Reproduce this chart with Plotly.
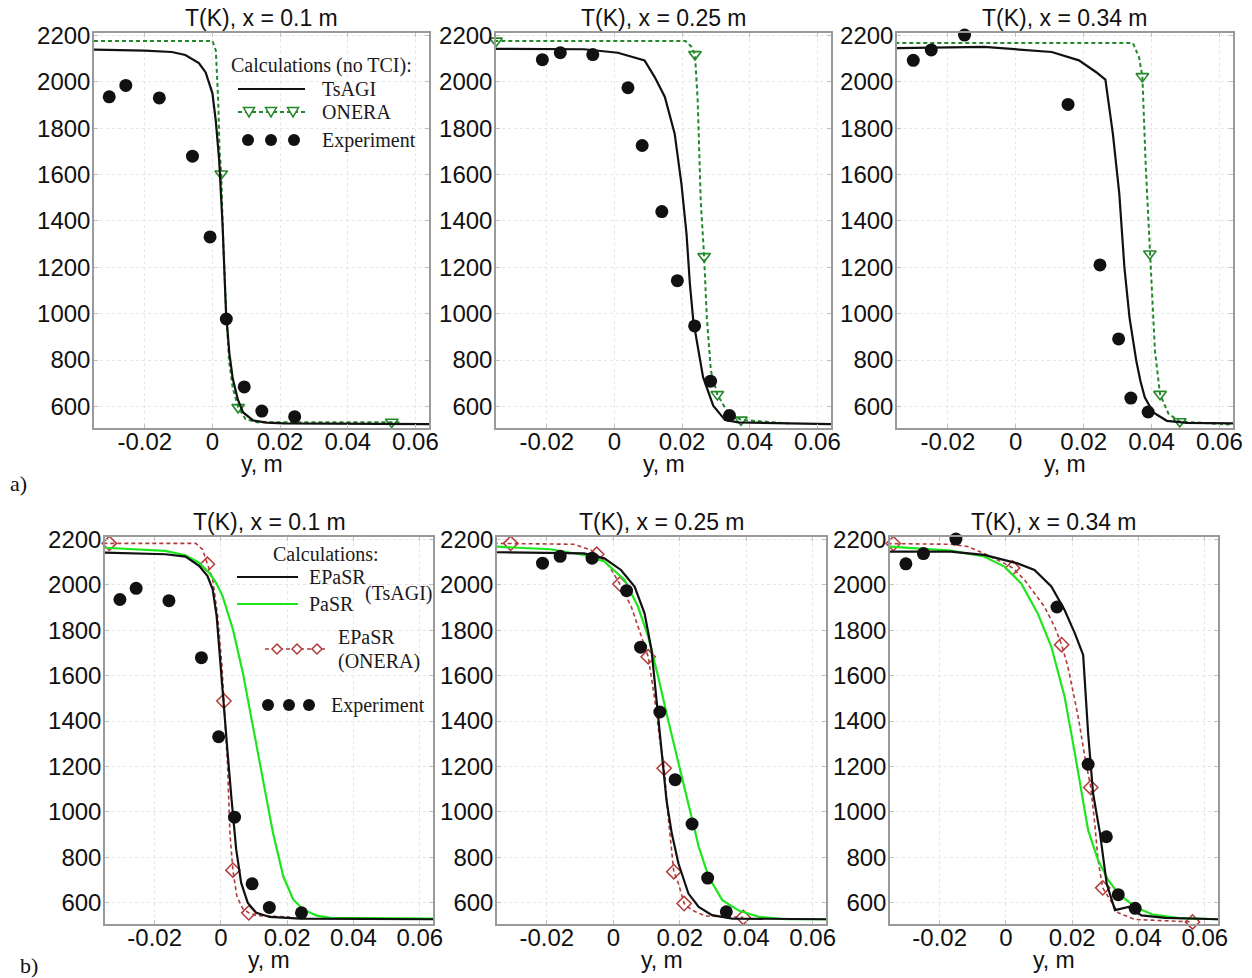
import plotly.graph_objects as go

# ---------------------------------------------------------------- data
# Experimental temperature profiles (same measurements in rows a and b)
exp_y_010 = [-0.0305, -0.0256, -0.0157, -0.0059, -0.0007, 0.0041, 0.0094, 0.0146, 0.0243]
exp_T_010 = [1935, 1984, 1930, 1679, 1331, 977, 684, 580, 556]

exp_y_025 = [-0.0213, -0.016, -0.0064, 0.004, 0.0082, 0.014, 0.0186, 0.0237, 0.0284, 0.034]
exp_T_025 = [2095, 2125, 2117, 1974, 1725, 1440, 1142, 947, 709, 561]

exp_y_034 = [-0.0302, -0.0249, -0.0151, 0.0154, 0.0248, 0.0303, 0.0339, 0.039]
exp_T_034 = [2092, 2137, 2201, 1902, 1210, 891, 636, 576]

# Row a: calculations without turbulence-chemistry interaction
tsagi_y_010 = [-0.035, -0.02, -0.012, -0.008, -0.004, -0.002, 0.0, 0.001, 0.002, 0.003,
               0.004, 0.005, 0.006, 0.0075, 0.009, 0.012, 0.016, 0.021, 0.064]
tsagi_T_010 = [2138, 2134, 2128, 2115, 2080, 2040, 1950, 1830, 1660, 1380,
               1010, 830, 720, 630, 575, 540, 530, 527, 524]
onera_y_010 = [-0.035, 0.0, 0.001, 0.0017, 0.0021, 0.0026, 0.0031, 0.0039, 0.0049, 0.006,
               0.0076, 0.0098, 0.013, 0.053, 0.056]
onera_T_010 = [2176, 2176, 2135, 1919, 1704, 1603, 1344, 1056, 797, 680,
               596, 545, 532, 533, 532]
onera_mk_y_010 = [0.0026, 0.0076, 0.053]
onera_mk_T_010 = [1603, 596, 533]

tsagi_y_025 = [-0.0355, -0.009, 0.001, 0.0089, 0.0119, 0.0149, 0.0178, 0.0198, 0.0213, 0.0223,
               0.0233, 0.0248, 0.0262, 0.0292, 0.0327, 0.0366, 0.064]
tsagi_T_025 = [2142, 2140, 2125, 2092, 2020, 1934, 1776, 1560, 1344, 1128,
               970, 841, 726, 603, 541, 531, 524]
onera_y_025 = [-0.0355, 0.021, 0.0228, 0.0238, 0.0246, 0.0255, 0.0265, 0.0273, 0.0285, 0.0304,
               0.0332, 0.0374, 0.0515]
onera_T_025 = [2176, 2176, 2150, 2118, 1919, 1488, 1247, 984, 754, 652,
               581, 542, 527]
onera_mk_y_025 = [-0.035, 0.0238, 0.0265, 0.0304, 0.0374]
onera_mk_T_025 = [2176, 2118, 1247, 652, 542]

tsagi_y_034 = [-0.0355, -0.0093, 0.0106, 0.0186, 0.0236, 0.0264, 0.0286, 0.0305, 0.032, 0.0335,
               0.0355, 0.0367, 0.038, 0.0405, 0.0445, 0.0504, 0.0644]
tsagi_T_034 = [2145, 2150, 2128, 2092, 2042, 2009, 1776, 1517, 1200, 984,
               797, 711, 639, 574, 538, 529, 527]
onera_y_034 = [-0.0355, 0.0345, 0.0363, 0.0373, 0.0383, 0.0395, 0.041, 0.0425, 0.045, 0.0483, 0.0639]
onera_T_034 = [2167, 2167, 2106, 2023, 1632, 1258, 841, 653, 568, 535, 521]
onera_mk_y_034 = [-0.0351, 0.0373, 0.0395, 0.0425, 0.0483]
onera_mk_T_034 = [2167, 2023, 1258, 653, 535]

# Row b: EPaSR / PaSR combustion models
epasr_y_010 = [-0.0355, -0.0168, -0.0107, -0.0066, -0.0041, -0.0025, -0.0013, -0.0003, 0.0007,
               0.002, 0.0032, 0.0046, 0.0061, 0.0081, 0.0107, 0.0147, 0.0239, 0.064]
epasr_T_010 = [2141, 2134, 2124, 2083, 2039, 1980, 1862, 1672, 1466,
               1261, 1055, 835, 688, 600, 556, 538, 531, 528]
pasr_y_010 = [-0.0355, -0.0168, -0.0107, -0.0066, -0.0036, -0.0015, 0.0005, 0.0036, 0.0066,
              0.0096, 0.0127, 0.0157, 0.0188, 0.0218, 0.0249, 0.0289, 0.033, 0.064]
pasr_T_010 = [2163, 2149, 2130, 2097, 2053, 2009, 1950, 1804, 1613,
              1378, 1143, 908, 717, 615, 570, 544, 534, 531]
epasr_on_y_010 = [-0.0355, -0.0076, -0.0056, -0.0041, -0.0025, -0.001, 0.0003, 0.0009, 0.002,
                  0.0027, 0.0036, 0.0048, 0.0066, 0.0084, 0.0107, 0.0208]
epasr_on_T_010 = [2182, 2182, 2156, 2090, 2024, 1862, 1642, 1488, 1202,
                  908, 744, 629, 574, 556, 544, 538]
epasr_on_mk_y_010 = [-0.0337, -0.0041, 0.0009, 0.0036, 0.0084]
epasr_on_mk_T_010 = [2182, 2090, 1488, 744, 556]

epasr_y_025 = [-0.036, -0.0088, -0.0027, 0.0023, 0.0064, 0.0094, 0.0115, 0.013, 0.0145,
               0.016, 0.0176, 0.0196, 0.0226, 0.0257, 0.0297, 0.0358, 0.064]
epasr_T_025 = [2143, 2138, 2116, 2065, 1992, 1874, 1713, 1492, 1258,
               1052, 905, 773, 641, 582, 546, 531, 528]
pasr_y_025 = [-0.036, -0.019, -0.0088, -0.0027, 0.0034, 0.0074, 0.0105, 0.0135, 0.0165,
              0.0196, 0.0226, 0.0257, 0.0287, 0.0328, 0.0379, 0.044, 0.0521, 0.064]
pasr_T_025 = [2168, 2156, 2131, 2102, 2021, 1904, 1771, 1595, 1404,
              1214, 1023, 847, 714, 612, 565, 538, 528, 528]
epasr_on_y_025 = [-0.036, -0.0119, -0.0068, -0.005, -0.0012, 0.002, 0.0054, 0.0084, 0.0105,
                  0.0125, 0.014, 0.0153, 0.0165, 0.0182, 0.0196, 0.0213, 0.0237, 0.0277, 0.0391]
epasr_on_T_025 = [2182, 2178, 2153, 2134, 2080, 2003, 1904, 1771, 1683,
                  1493, 1316, 1192, 979, 737, 685, 597, 568, 542, 536]
epasr_on_mk_y_025 = [-0.0309, -0.005, 0.002, 0.0105, 0.0153, 0.0182, 0.0213, 0.0391]
epasr_on_mk_T_025 = [2182, 2134, 2003, 1683, 1192, 737, 597, 536]

epasr_y_034 = [-0.0357, -0.0167, -0.0066, 0.0035, 0.0086, 0.0137, 0.0177, 0.0208, 0.0233,
               0.0248, 0.0263, 0.0284, 0.0304, 0.0329, 0.037, 0.0409, 0.0481, 0.064]
epasr_T_034 = [2146, 2146, 2131, 2094, 2065, 1992, 1889, 1786, 1691,
               1346, 1081, 905, 685, 568, 582, 545, 534, 528]
pasr_y_034 = [-0.0357, -0.0167, -0.0066, -0.0005, 0.0046, 0.0096, 0.0137, 0.0177, 0.0208,
              0.0228, 0.0248, 0.0278, 0.0309, 0.0339, 0.039, 0.044, 0.0522, 0.064]
pasr_T_034 = [2168, 2150, 2124, 2080, 2006, 1874, 1727, 1507, 1258,
              1081, 920, 788, 700, 641, 582, 550, 533, 528]
epasr_on_y_034 = [-0.0357, -0.0167, -0.0116, -0.0066, -0.0005, 0.002, 0.0056, 0.0116, 0.0147,
                  0.0168, 0.0187, 0.0218, 0.0238, 0.0256, 0.0268, 0.0278, 0.0292, 0.0309,
                  0.0339, 0.039, 0.0491, 0.0563]
epasr_on_T_034 = [2181, 2178, 2168, 2138, 2094, 2074, 2021, 1904, 1815,
                  1736, 1639, 1419, 1243, 1108, 949, 788, 666, 626,
                  556, 527, 521, 516]
epasr_on_mk_y_034 = [-0.034, 0.002, 0.0168, 0.0256, 0.0292, 0.0563]
epasr_on_mk_T_034 = [2181, 2074, 1736, 1108, 666, 516]

panel_titles = ["T(K), x = 0.1 m", "T(K), x = 0.25 m", "T(K), x = 0.34 m"]
x_tickvals = [-0.02, 0, 0.02, 0.04, 0.06]
x_ticktext = ["-0.02", "0", "0.02", "0.04", "0.06"]
y_tickvals = [600, 800, 1000, 1200, 1400, 1600, 1800, 2000, 2200]

# ---------------------------------------------------------------- styling
W, H = 1252, 978
SANS = "Liberation Sans"
SERIF = "Liberation Serif"
BLACK = "#111111"
DKGREEN = "#23882a"
LIME = "#1ee61e"
BROWN = "#b23a3a"
X_RANGE = [-0.035, 0.064]
Y_RANGE = [507, 2210]

# plot-area pixel boxes (left, right, top, bottom)
boxes = [
    (94, 429, 33, 428), (496, 831, 33, 428), (897, 1233, 33, 428),
    (105, 433, 537, 924), (497, 826, 537, 924), (890, 1218, 537, 924),
]


def px(x):
    return x / W


def py(y):
    return 1 - y / H


fig = go.Figure()


def ax_name(i, kind):
    return kind if i == 0 else f"{kind}{i + 1}"


def add_line(i, xs, ys, color, width, dash="solid"):
    fig.add_trace(go.Scatter(
        x=xs, y=ys, mode="lines", xaxis=ax_name(i, "x"), yaxis=ax_name(i, "y"),
        line=dict(color=color, width=width, dash=dash), showlegend=False,
        hoverinfo="skip"))


def add_markers(i, xs, ys, symbol, color, size, lw=1.6):
    fig.add_trace(go.Scatter(
        x=xs, y=ys, mode="markers", xaxis=ax_name(i, "x"), yaxis=ax_name(i, "y"),
        marker=dict(symbol=symbol, color=color, size=size,
                    line=dict(color=color, width=lw)),
        cliponaxis=False, showlegend=False, hoverinfo="skip"))


exp_sets = [(exp_y_010, exp_T_010), (exp_y_025, exp_T_025), (exp_y_034, exp_T_034)]

# Row a
row_a = [
    (tsagi_y_010, tsagi_T_010, onera_y_010, onera_T_010, onera_mk_y_010, onera_mk_T_010),
    (tsagi_y_025, tsagi_T_025, onera_y_025, onera_T_025, onera_mk_y_025, onera_mk_T_025),
    (tsagi_y_034, tsagi_T_034, onera_y_034, onera_T_034, onera_mk_y_034, onera_mk_T_034),
]
for k, (ty, tT, oy, oT, my, mT) in enumerate(row_a):
    add_line(k, oy, oT, DKGREEN, 2, "4px,3px")
    add_markers(k, my, mT, "triangle-down-open", DKGREEN, 11)
    add_line(k, ty, tT, BLACK, 2.2)
    add_markers(k, exp_sets[k][0], exp_sets[k][1], "circle", BLACK, 13, 0)

# Row b
row_b = [
    (epasr_y_010, epasr_T_010, pasr_y_010, pasr_T_010, epasr_on_y_010, epasr_on_T_010,
     epasr_on_mk_y_010, epasr_on_mk_T_010),
    (epasr_y_025, epasr_T_025, pasr_y_025, pasr_T_025, epasr_on_y_025, epasr_on_T_025,
     epasr_on_mk_y_025, epasr_on_mk_T_025),
    (epasr_y_034, epasr_T_034, pasr_y_034, pasr_T_034, epasr_on_y_034, epasr_on_T_034,
     epasr_on_mk_y_034, epasr_on_mk_T_034),
]
for k, (ey, eT, py_, pT, oy, oT, my, mT) in enumerate(row_b):
    i = k + 3
    add_line(i, oy, oT, BROWN, 1.6, "4px,3px")
    add_markers(i, my, mT, "diamond-open", BROWN, 11, 1.5)
    add_line(i, py_, pT, LIME, 2.2)
    add_line(i, ey, eT, BLACK, 2.2)
    add_markers(i, exp_sets[k][0], exp_sets[k][1], "circle", BLACK, 13, 0)

# ---------------------------------------------------------------- axes
layout = dict(
    width=W, height=H, margin=dict(l=0, r=0, t=0, b=0, pad=0, autoexpand=False),
    paper_bgcolor="white", plot_bgcolor="white", showlegend=False,
    font=dict(family=SANS, size=24, color="#111111"),
)
annotations = []
shapes = []
for i, (l, r, t, b) in enumerate(boxes):
    common = dict(showline=True, linecolor="#9a9a9a", linewidth=1.5, mirror="ticks",
                  ticks="inside", ticklen=4, tickcolor="#c0c0c0",
                  showgrid=True, gridcolor="#e6e6e6", griddash="dot", gridwidth=1,
                  zeroline=False, tickfont=dict(family=SANS, size=24, color="#111111"))
    layout[ax_name(i, "xaxis")] = dict(
        domain=[px(l), px(r)], anchor=ax_name(i, "y"), range=X_RANGE,
        tickmode="array", tickvals=x_tickvals, ticktext=x_ticktext,
        ticklabelstandoff=-9, **common)
    layout[ax_name(i, "yaxis")] = dict(
        domain=[py(b), py(t)], anchor=ax_name(i, "x"), range=Y_RANGE,
        tickmode="array", tickvals=y_tickvals, ticklabelstandoff=-3, **common)
    cx = (l + r) / 2
    ttl_y = 18 if i < 3 else 522
    lab_y = 464 if i < 3 else 960
    annotations.append(dict(text=panel_titles[i % 3], x=px(cx), y=py(ttl_y), xref="paper",
                            yref="paper", showarrow=False, xanchor="center", yanchor="middle",
                            font=dict(family=SANS, size=23, color="#111111")))
    annotations.append(dict(text="y, m", x=px(cx), y=py(lab_y), xref="paper", yref="paper",
                            showarrow=False, xanchor="center", yanchor="middle",
                            font=dict(family=SANS, size=23, color="#111111")))

# panel row labels
for txt, (x0, y0) in [("a)", (8, 483)), ("b)", (18, 965))]:
    annotations.append(dict(text=txt, x=px(x0), y=py(y0), xref="paper", yref="paper",
                            showarrow=False, xanchor="left", yanchor="middle",
                            font=dict(family=SERIF, size=22, color="#111111")))


# ---------------------------------------------------------------- legends
def leg_text(txt, x0, y0, anchor="left"):
    annotations.append(dict(text=txt, x=px(x0), y=py(y0), xref="paper", yref="paper",
                            showarrow=False, xanchor=anchor, yanchor="middle",
                            font=dict(family=SERIF, size=20, color="#1a1a1a")))


def leg_line(x0, x1, y0, color, width, dash="solid"):
    shapes.append(dict(type="line", xref="paper", yref="paper",
                       x0=px(x0), x1=px(x1), y0=py(y0), y1=py(y0),
                       line=dict(color=color, width=width, dash=dash)))


def leg_dot(xc, yc, r=6):
    shapes.append(dict(type="circle", xref="paper", yref="paper",
                       x0=px(xc - r), x1=px(xc + r), y0=py(yc + r), y1=py(yc - r),
                       fillcolor=BLACK, line=dict(color=BLACK, width=0)))


def leg_tri(xc, yc, s=5.5):
    path = (f"M {px(xc - s)} {py(yc - s * 0.8)} L {px(xc + s)} {py(yc - s * 0.8)} "
            f"L {px(xc)} {py(yc + s * 0.9)} Z")
    shapes.append(dict(type="path", xref="paper", yref="paper", path=path,
                       fillcolor="white", line=dict(color=DKGREEN, width=1.5)))


def leg_diamond(xc, yc, s=5):
    path = (f"M {px(xc)} {py(yc - s)} L {px(xc + s)} {py(yc)} "
            f"L {px(xc)} {py(yc + s)} L {px(xc - s)} {py(yc)} Z")
    shapes.append(dict(type="path", xref="paper", yref="paper", path=path,
                       fillcolor="white", line=dict(color=BROWN, width=1.5)))


# legend of row a
leg_text("Calculations (no TCI):", 229, 65)
leg_line(238, 305, 89, BLACK, 2.2)
leg_text("TsAGI", 320, 89)
leg_line(238, 305, 112, DKGREEN, 1.8, "4px,3px")
for xc in (249, 271, 293):
    leg_tri(xc, 112)
leg_text("ONERA", 320, 112)
for xc in (248, 271, 294):
    leg_dot(xc, 140)
leg_text("Experiment", 320, 140)

# legend of row b
leg_text("Calculations:", 271, 554)
leg_line(237, 298, 577, BLACK, 2.2)
leg_text("EPaSR", 307, 577)
leg_line(237, 298, 604, LIME, 2.2)
leg_text("PaSR", 307, 604)
leg_text("(TsAGI)", 363, 593)
leg_line(265, 327, 649, BROWN, 1.5, "4px,3px")
for xc in (277, 297, 317):
    leg_diamond(xc, 649)
leg_text("EPaSR", 336, 637)
leg_text("(ONERA)", 336, 661)
for xc in (268, 289, 309):
    leg_dot(xc, 705)
leg_text("Experiment", 329, 705)

layout["annotations"] = annotations
layout["shapes"] = shapes
fig.update_layout(**layout)

fig.write_html("out.html")
